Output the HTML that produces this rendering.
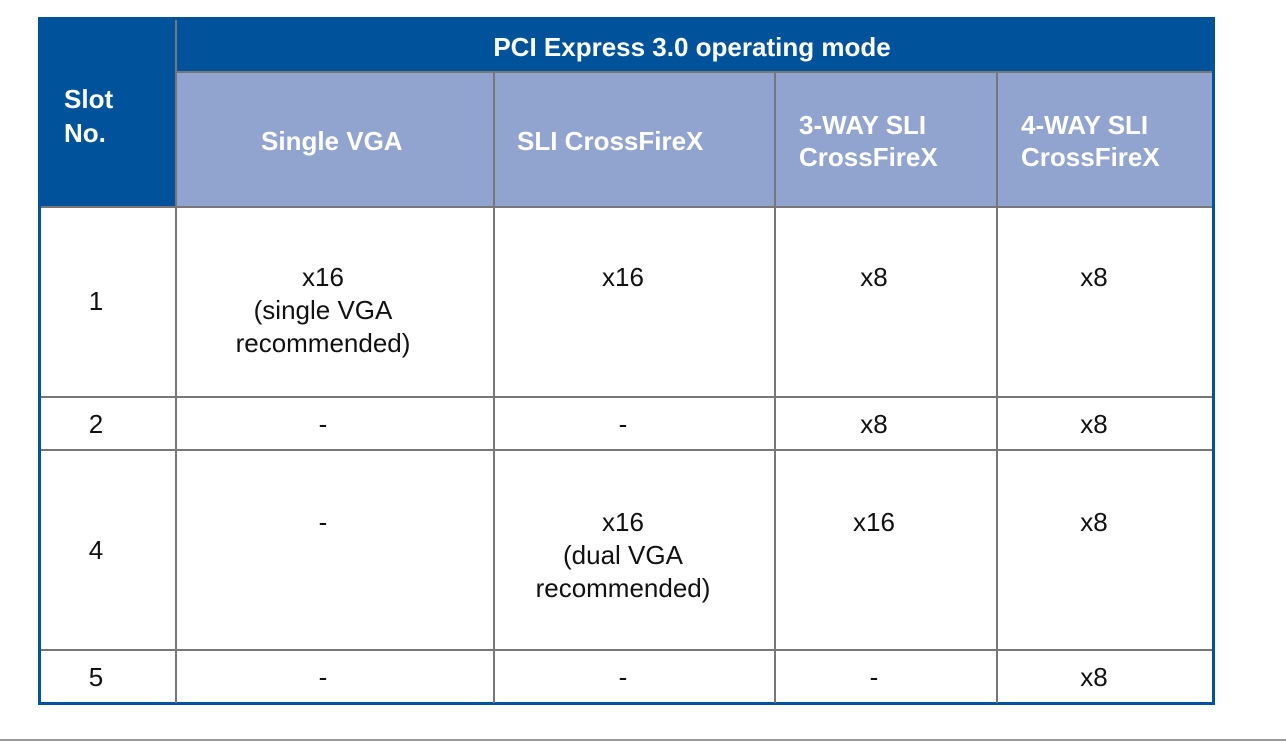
<!DOCTYPE html>
<html><head><meta charset="utf-8"><style>
body{margin:0;width:1286px;height:743px;background:#fff;position:relative;overflow:hidden;font-family:"Liberation Sans",Arial,sans-serif;}
.a{position:absolute;}
.t{position:absolute;font-size:26px;color:#111;line-height:33px;text-align:center;white-space:nowrap;transform:translateX(-50%);}
.h{position:absolute;font-size:26px;font-weight:bold;color:#fff;line-height:32px;white-space:nowrap;}
.vl{position:absolute;width:2px;background:#777;}
.hl{position:absolute;height:2px;background:#777;}
</style></head><body>
<div class="a" style="left:38px;top:17px;width:1177px;height:688px;background:#fff;box-sizing:border-box;border:3px solid #0053a0;"></div>
<div class="a" style="left:38px;top:17px;width:1177px;height:55px;background:#00529b;"></div>
<div class="a" style="left:38px;top:17px;width:139px;height:190px;background:#00529b;"></div>
<div class="a" style="left:177px;top:73px;width:1035px;height:133px;background:#91a3cf;"></div>
<div class="vl" style="left:175px;top:20px;height:683px;"></div>
<div class="vl" style="left:493px;top:73px;height:630px;"></div>
<div class="vl" style="left:774px;top:73px;height:630px;"></div>
<div class="vl" style="left:996px;top:73px;height:630px;"></div>
<div class="hl" style="left:176px;top:71px;width:1036px;"></div>
<div class="hl" style="left:41px;top:206px;width:1171px;"></div>
<div class="hl" style="left:41px;top:396px;width:1171px;"></div>
<div class="hl" style="left:41px;top:449px;width:1171px;"></div>
<div class="hl" style="left:41px;top:649px;width:1171px;"></div>
<div class="a" style="left:0;top:739px;width:1286px;height:2px;background:#999;"></div>

<div class="h" style="left:64px;top:82px;line-height:34px;">Slot<br>No.</div>
<div class="h" style="left:692px;top:31px;transform:translateX(-50%);">PCI Express 3.0 operating mode</div>
<div class="h" style="left:261px;top:125px;">Single VGA</div>
<div class="h" style="left:517px;top:125px;">SLI CrossFireX</div>
<div class="h" style="left:799px;top:109px;">3-WAY SLI<br>CrossFireX</div>
<div class="h" style="left:1021px;top:109px;">4-WAY SLI<br>CrossFireX</div>

<div class="t" style="left:96px;top:285px;">1</div>
<div class="t" style="left:323px;top:261px;">x16<br>(single VGA<br>recommended)</div>
<div class="t" style="left:623px;top:261px;">x16</div>
<div class="t" style="left:874px;top:261px;">x8</div>
<div class="t" style="left:1094px;top:261px;">x8</div>

<div class="t" style="left:96px;top:408px;">2</div>
<div class="t" style="left:323px;top:408px;">-</div>
<div class="t" style="left:623px;top:408px;">-</div>
<div class="t" style="left:874px;top:408px;">x8</div>
<div class="t" style="left:1094px;top:408px;">x8</div>

<div class="t" style="left:96px;top:534px;">4</div>
<div class="t" style="left:323px;top:506px;">-</div>
<div class="t" style="left:623px;top:506px;">x16<br>(dual VGA<br>recommended)</div>
<div class="t" style="left:874px;top:506px;">x16</div>
<div class="t" style="left:1094px;top:506px;">x8</div>

<div class="t" style="left:96px;top:661px;">5</div>
<div class="t" style="left:323px;top:661px;">-</div>
<div class="t" style="left:623px;top:661px;">-</div>
<div class="t" style="left:874px;top:661px;">-</div>
<div class="t" style="left:1094px;top:661px;">x8</div>
</body></html>
